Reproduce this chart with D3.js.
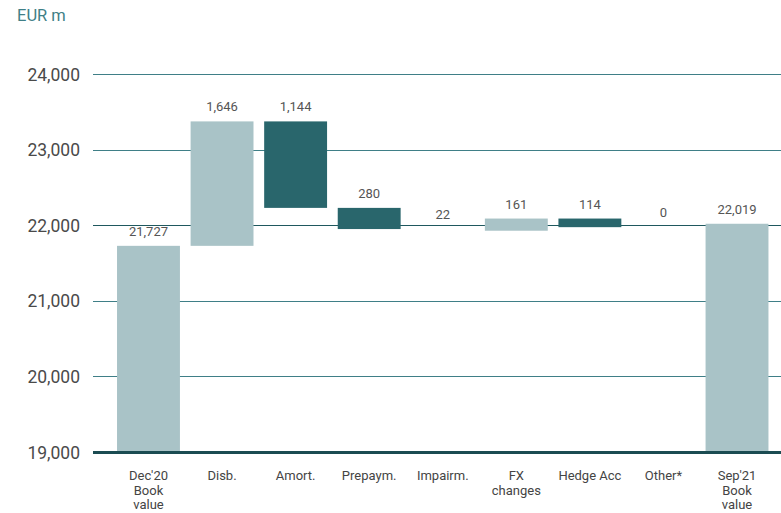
<!DOCTYPE html>
<html><head><meta charset="utf-8">
<script src="https://cdn.jsdelivr.net/npm/d3@7"></script>
<style>body{margin:0;background:#fff}svg{display:block}text{font-family:Roboto,"DejaVu Sans",sans-serif}</style>
</head><body><svg id="c" width="781" height="513"></svg>
<script>
const categories = [["Dec'20","Book","value"],["Disb."],["Amort."],["Prepaym."],["Impairm."],["FX","changes"],["Hedge Acc"],["Other*"],["Sep'21","Book","value"]];
const kinds = ["total","up","down","down","down","up","down","down","total"];
const values = [21727,1646,1144,280,22,161,114,0,22019];
const labels = ["21,727","1,646","1,144","280","22","161","114","0","22,019"];
const yTicks = [19000,20000,21000,22000,23000,24000];

const svg = d3.select("#c");
const x = d3.scaleBand().domain(d3.range(categories.length)).range([111.7,773.8]).paddingInner(0.145).paddingOuter(0.0725);
const y = d3.scaleLinear().domain([19000,24000]).range([452,74]);

// compute waterfall
let cum = 0;
const bars = values.map((v,i)=>{
  let lo, hi;
  if (kinds[i]==="total"){ lo=19000; hi=v; cum=v; }
  else if (kinds[i]==="up"){ lo=cum; hi=cum+v; cum=hi; }
  else { hi=cum; lo=cum-v; cum=lo; }
  return {i,lo,hi,kind:kinds[i],label:labels[i]};
});

svg.append("text").attr("x",17).attr("y",21).attr("fill","#3f7f87").attr("font-size",16.5).text("EUR m");

// grid
const grid = svg.append("g");
yTicks.filter(t=>t>19000).forEach(t=>{
  grid.append("line").attr("x1",93).attr("x2",781).attr("y1",Math.round(y(t))+0.5).attr("y2",Math.round(y(t))+0.5)
    .attr("stroke", t===22000 ? "#1f585e" : "#3f7f87").attr("stroke-width",1.2);
});
const yAxis = svg.append("g").attr("transform","translate(80,0)")
  .call(d3.axisLeft(y).tickValues(yTicks).tickSize(0).tickPadding(0).tickFormat(d3.format(",")));
yAxis.select(".domain").remove();
yAxis.selectAll("text").attr("font-size",17.5).attr("fill","#4a4a4a").attr("font-family","Roboto,sans-serif").attr("dy","0.35em");

const col = {total:"#a9c3c7", up:"#a9c3c7", down:"#29666c"};
// very small movements (under ~2px) are not visible as bars in the source
svg.append("g").selectAll("rect").data(bars.filter(d=>y(d.lo)-y(d.hi)>=2)).join("rect")
  .attr("x",d=>x(d.i)).attr("width",x.bandwidth())
  .attr("y",d=>y(d.hi)).attr("height",d=>y(d.lo)-y(d.hi))
  .attr("fill",d=>col[d.kind]);

svg.append("g").selectAll("text").data(bars).join("text")
  .attr("x",d=>x(d.i)+x.bandwidth()/2).attr("y",d=>y(d.hi)-10)
  .attr("text-anchor","middle").attr("font-size",13).attr("fill","#555").text(d=>d.label);

// baseline
svg.append("line").attr("x1",93).attr("x2",781).attr("y1",452.5).attr("y2",452.5).attr("stroke","#1b4c52").attr("stroke-width",3);

// x labels
const xl = svg.append("g");
categories.forEach((lines,i)=>{
  const t = xl.append("text").attr("x",x(i)+x.bandwidth()/2).attr("y",480).attr("text-anchor","middle").attr("font-size",13).attr("fill","#444");
  lines.forEach((s,k)=>t.append("tspan").attr("x",x(i)+x.bandwidth()/2).attr("y",480+k*14.5).text(s));
});
</script></body></html>
